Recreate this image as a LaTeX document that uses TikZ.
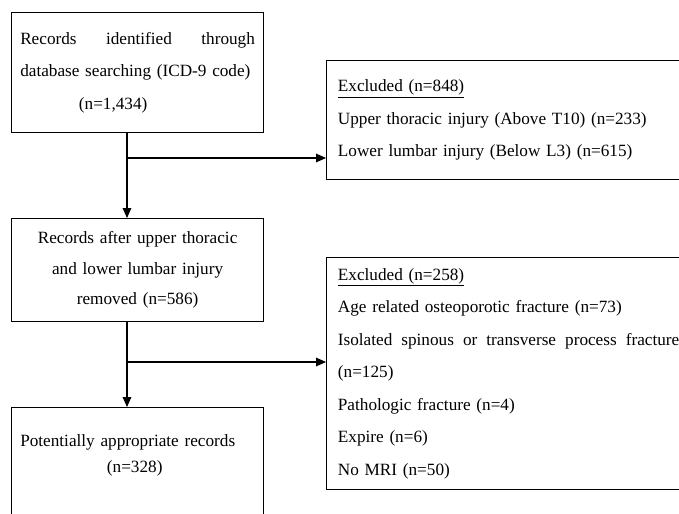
\documentclass[tikz,border=0pt]{standalone}
\usepackage{fontspec}
\setmainfont{Liberation Serif}
\usetikzlibrary{arrows.meta}

\begin{document}
\begin{tikzpicture}[x=0.75pt,y=-0.75pt,
    box/.style={draw, line width=0.9pt, anchor=north west, inner ysep=0pt, inner xsep=6pt, align=left},
    arr/.style={line width=0.8pt, -{Triangle[length=7.5pt,width=6.5pt]}},
    font=\fontsize{12.9}{24.4}\selectfont]
    \useasboundingbox (0,0) rectangle (679,514);
    \clip (0,0) rectangle (679,514);
    % left column
    \node[box, text width=176pt, minimum width=189pt, minimum height=90pt] (found) at (11,12)
      {Records\hfill identified\hfill through\\database searching (ICD-9 code)\\\hspace*{44pt}(n=1,434)};
    \node[box, align=center, text width=176pt, minimum width=189pt, minimum height=77pt,
      font=\fontsize{12.9}{22.9}\selectfont] (kept) at (11,218)
      {Records after upper thoracic\\and lower lumbar injury\\removed (n=586)};
    \node[box, text width=176pt, minimum width=189pt, inner ysep=20pt, text depth=60pt,
      font=\fontsize{12.9}{19.5}\selectfont] (final) at (11,407)
      {Potentially appropriate records\\\hspace*{65pt}(n=328)};
    % right column
    \node[box, text width=256pt, minimum width=273pt, minimum height=89pt] (excl1) at (326,60)
      {\underline{Excluded (n=848)}\\Upper thoracic injury (Above T10) (n=233)\\Lower lumbar injury (Below L3) (n=615)};
    \node[box, text width=256pt, minimum width=273pt, minimum height=174pt] (excl2) at (326,257)
      {\underline{Excluded (n=258)}\\Age related osteoporotic fracture (n=73)\\
       Isolated\hfill spinous\hfill or\hfill transverse\hfill process\hfill fracture\\(n=125)\\
       Pathologic fracture (n=4)\\Expire (n=6)\\No MRI (n=50)};
    % connectors
    \coordinate (fork1) at (127,158);
    \coordinate (fork2) at (127,362);
    \draw[arr] (fork1 |- found.south) -- (fork1 |- kept.north);
    \draw[arr] (fork1) -- (fork1 -| excl1.west);
    \draw[arr] (fork2 |- kept.south) -- (fork2 |- final.north);
    \draw[arr] (fork2) -- (fork2 -| excl2.west);
\end{tikzpicture}
\end{document}
